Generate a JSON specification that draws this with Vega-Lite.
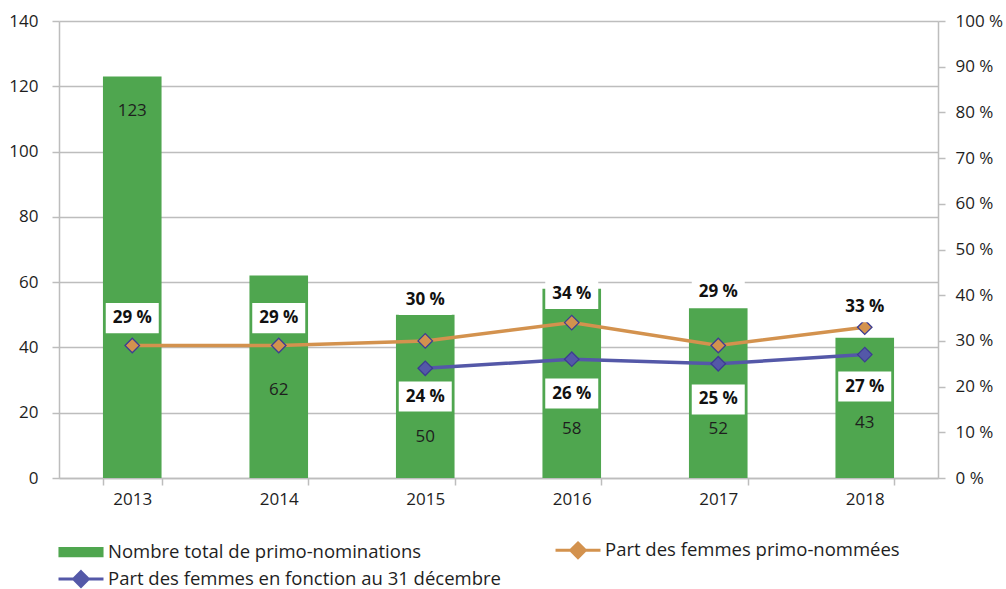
{
  "$schema": "https://vega.github.io/schema/vega-lite/v6.json",
  "width": 879,
  "height": 457,
  "autosize": "none",
  "padding": {"left": 59, "top": 21, "right": 68, "bottom": 111},
  "datasets": {
    "bars": [
      {"year": "2013", "n": 123},
      {"year": "2014", "n": 62},
      {"year": "2015", "n": 50},
      {"year": "2016", "n": 58},
      {"year": "2017", "n": 52},
      {"year": "2018", "n": 43}
    ],
    "pct": [
      {"year": "2013", "series": "Part des femmes primo-nommées", "share": 0.29},
      {"year": "2014", "series": "Part des femmes primo-nommées", "share": 0.29},
      {"year": "2015", "series": "Part des femmes primo-nommées", "share": 0.30},
      {"year": "2016", "series": "Part des femmes primo-nommées", "share": 0.34},
      {"year": "2017", "series": "Part des femmes primo-nommées", "share": 0.29},
      {"year": "2018", "series": "Part des femmes primo-nommées", "share": 0.33},
      {"year": "2015", "series": "Part des femmes en fonction au 31 décembre", "share": 0.24},
      {"year": "2016", "series": "Part des femmes en fonction au 31 décembre", "share": 0.26},
      {"year": "2017", "series": "Part des femmes en fonction au 31 décembre", "share": 0.25},
      {"year": "2018", "series": "Part des femmes en fonction au 31 décembre", "share": 0.27}
    ]
  },
  "encoding": {
    "x": {
      "field": "year", "type": "ordinal", "title": null,
      "scale": {"paddingInner": 0.6, "paddingOuter": 0.3},
      "axis": {"labelAngle": 0, "tickBand": "extent", "tickSize": 7, "labelPadding": 6, "grid": false}
    }
  },
  "layer": [
    {
      "data": {"name": "bars"},
      "layer": [
        {
          "mark": {"type": "bar", "color": "#4FA64F"},
          "encoding": {
            "y": {
              "field": "n", "type": "quantitative", "title": null,
              "scale": {"domain": [0, 140], "nice": false},
              "axis": {"values": [0, 20, 40, 60, 80, 100, 120, 140], "grid": true, "tickSize": 7, "labelPadding": 14}
            },
            "color": {
              "datum": "Nombre total de primo-nominations", "type": "nominal", "title": null,
              "scale": {
                "domain": ["Nombre total de primo-nominations", "Part des femmes primo-nommées", "Part des femmes en fonction au 31 décembre"],
                "range": ["#4FA64F", "#D3924E", "#5458A8"]
              },
              "legend": {
                "orient": "none", "legendX": 9, "legendY": 516, "columns": 2, "direction": "horizontal", "title": null,
                "values": ["Nombre total de primo-nominations", "Part des femmes primo-nommées", "Part des femmes en fonction au 31 décembre"],
                "symbolSize": 506, "labelOffset": 14, "columnPadding": 48, "rowPadding": 1,
                "labelFont": "Open Sans", "labelFontSize": 18.5, "labelColor": "#1e1e1e", "labelLimit": 0,
                "padding": 0, "offset": 0,
                "encode": {
                  "symbols": {
                    "update": {
                      "shape": {"signal": "datum.value === 'Nombre total de primo-nominations' ? 'M-1.87,-0.32H1.87V0.32H-1.87Z' : 'M-2,0H2M0,-0.65L0.65,0L0,0.65L-0.65,0Z'"},
                      "fill": {"signal": "scale('color', datum.value)"},
                      "stroke": {"signal": "scale('color', datum.value)"},
                      "strokeWidth": {"value": 3},
                      "opacity": {"value": 1}
                    }
                  }
                }
              }
            }
          }
        },
        {
          "transform": [{"filter": "datum.year == '2013'"}],
          "mark": {"type": "text", "fontSize": 17, "color": "#1e1e1e", "baseline": "middle"},
          "encoding": {"y": {"datum": 112.4, "type": "quantitative", "title": null}, "text": {"field": "n"}}
        },
        {
          "transform": [{"filter": "datum.year == '2014'"}],
          "mark": {"type": "text", "fontSize": 17, "color": "#1e1e1e", "baseline": "middle"},
          "encoding": {"y": {"datum": 27, "type": "quantitative", "title": null}, "text": {"field": "n"}}
        },
        {
          "transform": [{"filter": "datum.year == '2015'"}],
          "mark": {"type": "text", "fontSize": 17, "color": "#1e1e1e", "baseline": "middle"},
          "encoding": {"y": {"datum": 12.6, "type": "quantitative", "title": null}, "text": {"field": "n"}}
        },
        {
          "transform": [{"filter": "datum.year == '2016' || datum.year == '2017'"}],
          "mark": {"type": "text", "fontSize": 17, "color": "#1e1e1e", "baseline": "middle"},
          "encoding": {"y": {"datum": 15, "type": "quantitative", "title": null}, "text": {"field": "n"}}
        },
        {
          "transform": [{"filter": "datum.year == '2018'"}],
          "mark": {"type": "text", "fontSize": 17, "color": "#1e1e1e", "baseline": "middle"},
          "encoding": {"y": {"datum": 16.85, "type": "quantitative", "title": null}, "text": {"field": "n"}}
        }
      ]
    },
    {
      "data": {"name": "pct"},
      "layer": [
        {
          "mark": {"type": "line", "strokeWidth": 3.5},
          "encoding": {
            "y": {
              "field": "share", "type": "quantitative", "title": null,
              "scale": {"domain": [0, 1], "nice": false},
              "axis": {"orient": "right", "values": [0, 0.1, 0.2, 0.3, 0.4, 0.5, 0.6, 0.7, 0.8, 0.9, 1], "format": ".0%", "grid": false, "tickSize": 7, "labelPadding": 10}
            },
            "color": {
              "field": "series", "type": "nominal", "title": null,
              "scale": {
                "domain": ["Nombre total de primo-nominations", "Part des femmes primo-nommées", "Part des femmes en fonction au 31 décembre"],
                "range": ["#4FA64F", "#D3924E", "#5458A8"]
              }
            }
          }
        },
        {
          "mark": {"type": "point", "shape": "diamond", "filled": true, "size": 210, "opacity": 1, "stroke": "#3d3d92", "strokeWidth": 1.3},
          "encoding": {
            "y": {"field": "share", "type": "quantitative", "title": null},
            "color": {
              "field": "series", "type": "nominal", "title": null,
              "scale": {
                "domain": ["Nombre total de primo-nominations", "Part des femmes primo-nommées", "Part des femmes en fonction au 31 décembre"],
                "range": ["#4FA64F", "#D3924E", "#5458A8"]
              }
            }
          }
        },
        {
          "transform": [{"filter": "(datum.year == '2013' || datum.year == '2014') && datum.series == 'Part des femmes primo-nommées'"}],
          "encoding": {"y": {"datum": 0.35, "type": "quantitative", "title": null}},
          "layer": [
            {"mark": {"type": "point", "shape": "M-1,-0.57H1V0.57H-1Z", "filled": true, "color": "white", "opacity": 1, "size": 2809}},
            {"mark": {"type": "text", "fontWeight": "bold", "fontSize": 17, "color": "#111111", "baseline": "middle"}, "encoding": {"text": {"field": "share", "format": ".0%"}}}
          ]
        },
        {
          "transform": [{"filter": "datum.year == '2015' && datum.series == 'Part des femmes primo-nommées'"}],
          "encoding": {"y": {"datum": 0.3895, "type": "quantitative", "title": null}},
          "layer": [
            {"mark": {"type": "point", "shape": "M-1,-0.57H1V0.57H-1Z", "filled": true, "color": "white", "opacity": 1, "size": 2809}},
            {"mark": {"type": "text", "fontWeight": "bold", "fontSize": 17, "color": "#111111", "baseline": "middle"}, "encoding": {"text": {"field": "share", "format": ".0%"}}}
          ]
        },
        {
          "transform": [{"filter": "datum.year == '2016' && datum.series == 'Part des femmes primo-nommées'"}],
          "encoding": {"y": {"datum": 0.4026, "type": "quantitative", "title": null}},
          "layer": [
            {"mark": {"type": "point", "shape": "M-1,-0.57H1V0.57H-1Z", "filled": true, "color": "white", "opacity": 1, "size": 2809}},
            {"mark": {"type": "text", "fontWeight": "bold", "fontSize": 17, "color": "#111111", "baseline": "middle"}, "encoding": {"text": {"field": "share", "format": ".0%"}}}
          ]
        },
        {
          "transform": [{"filter": "datum.year == '2017' && datum.series == 'Part des femmes primo-nommées'"}],
          "encoding": {"y": {"datum": 0.407, "type": "quantitative", "title": null}},
          "layer": [
            {"mark": {"type": "point", "shape": "M-1,-0.57H1V0.57H-1Z", "filled": true, "color": "white", "opacity": 1, "size": 2809}},
            {"mark": {"type": "text", "fontWeight": "bold", "fontSize": 17, "color": "#111111", "baseline": "middle"}, "encoding": {"text": {"field": "share", "format": ".0%"}}}
          ]
        },
        {
          "transform": [{"filter": "datum.year == '2018' && datum.series == 'Part des femmes primo-nommées'"}],
          "encoding": {"y": {"datum": 0.374, "type": "quantitative", "title": null}},
          "layer": [
            {"mark": {"type": "point", "shape": "M-1,-0.57H1V0.57H-1Z", "filled": true, "color": "white", "opacity": 1, "size": 2809}},
            {"mark": {"type": "text", "fontWeight": "bold", "fontSize": 17, "color": "#111111", "baseline": "middle"}, "encoding": {"text": {"field": "share", "format": ".0%"}}}
          ]
        },
        {
          "transform": [{"filter": "datum.year == '2015' && datum.series == 'Part des femmes en fonction au 31 décembre'"}],
          "encoding": {"y": {"datum": 0.1783, "type": "quantitative", "title": null}},
          "layer": [
            {"mark": {"type": "point", "shape": "M-1,-0.57H1V0.57H-1Z", "filled": true, "color": "white", "opacity": 1, "size": 2809}},
            {"mark": {"type": "text", "fontWeight": "bold", "fontSize": 17, "color": "#111111", "baseline": "middle"}, "encoding": {"text": {"field": "share", "format": ".0%"}}}
          ]
        },
        {
          "transform": [{"filter": "datum.year == '2016' && datum.series == 'Part des femmes en fonction au 31 décembre'"}],
          "encoding": {"y": {"datum": 0.1849, "type": "quantitative", "title": null}},
          "layer": [
            {"mark": {"type": "point", "shape": "M-1,-0.57H1V0.57H-1Z", "filled": true, "color": "white", "opacity": 1, "size": 2809}},
            {"mark": {"type": "text", "fontWeight": "bold", "fontSize": 17, "color": "#111111", "baseline": "middle"}, "encoding": {"text": {"field": "share", "format": ".0%"}}}
          ]
        },
        {
          "transform": [{"filter": "datum.year == '2017' && datum.series == 'Part des femmes en fonction au 31 décembre'"}],
          "encoding": {"y": {"datum": 0.1718, "type": "quantitative", "title": null}},
          "layer": [
            {"mark": {"type": "point", "shape": "M-1,-0.57H1V0.57H-1Z", "filled": true, "color": "white", "opacity": 1, "size": 2809}},
            {"mark": {"type": "text", "fontWeight": "bold", "fontSize": 17, "color": "#111111", "baseline": "middle"}, "encoding": {"text": {"field": "share", "format": ".0%"}}}
          ]
        },
        {
          "transform": [{"filter": "datum.year == '2018' && datum.series == 'Part des femmes en fonction au 31 décembre'"}],
          "encoding": {"y": {"datum": 0.2002, "type": "quantitative", "title": null}},
          "layer": [
            {"mark": {"type": "point", "shape": "M-1,-0.57H1V0.57H-1Z", "filled": true, "color": "white", "opacity": 1, "size": 2809}},
            {"mark": {"type": "text", "fontWeight": "bold", "fontSize": 17, "color": "#111111", "baseline": "middle"}, "encoding": {"text": {"field": "share", "format": ".0%"}}}
          ]
        }
      ]
    }
  ],
  "resolve": {"scale": {"y": "independent"}},
  "config": {
    "font": "Open Sans",
    "view": {"stroke": null},
    "text": {"font": "Open Sans"},
    "axis": {
      "labelFont": "Open Sans", "labelFontSize": 17, "labelColor": "#1e1e1e",
      "domainColor": "#BDBDBD", "domainWidth": 1.5,
      "tickColor": "#BDBDBD", "tickWidth": 1.5,
      "gridColor": "#BDBDBD", "gridWidth": 1.5
    },
    "locale": {
      "number": {"decimal": ",", "thousands": " ", "grouping": [3], "currency": ["", " €"], "percent": " %"}
    }
  }
}
